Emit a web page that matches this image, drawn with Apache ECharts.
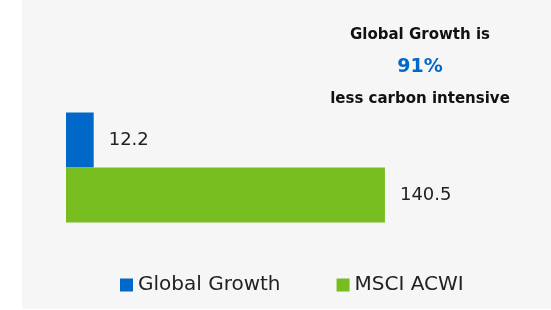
<!DOCTYPE html>
<html>
<head>
<meta charset="utf-8">
<script src="https://cdn.jsdelivr.net/npm/echarts@6/dist/echarts.min.js"></script>
<style>
  html, body { margin: 0; padding: 0; background: #ffffff; }
  #chart { width: 551px; height: 310px; }
</style>
</head>
<body>
<div id="chart"></div>
<script>
// data
const categories = ['Carbon intensity'];
const seriesNames = ['Global Growth', 'MSCI ACWI'];
const globalGrowth = [12.2];
const msciAcwi = [140.5];
const headline = ['Global Growth is', '91%', 'less carbon intensive'];

const colors = ['#0068c8', '#78bd20'];
const fontFamily = '"DejaVu Sans", sans-serif';

let chartDom = document.getElementById('chart');
let myChart = echarts.init(chartDom);
let option;

option = {
  animation: false,
  textStyle: { fontFamily: fontFamily },
  graphic: [
    {
      type: 'rect',
      z: -10,
      shape: { x: 22, y: 0, width: 529, height: 309 },
      style: { fill: '#f6f6f6' }
    }
  ],
  title: {
    text: '{a|' + headline[0] + '}\n{b|' + headline[1] + '}\n{a|' + headline[2] + '}',
    left: 415,
    top: 14,
    textAlign: 'center',
    textStyle: {
      rich: {
        a: { fontSize: 15, fontWeight: 'bold', color: '#111', lineHeight: 32, fontFamily: fontFamily, align: 'center' },
        b: { fontSize: 19, fontWeight: 'bold', color: '#0068c8', lineHeight: 32, fontFamily: fontFamily, align: 'center' }
      }
    }
  },
  legend: {
    bottom: 10,
    left: 115,
    itemWidth: 13,
    itemHeight: 13,
    itemGap: 56,
    icon: 'rect',
    textStyle: { fontSize: 20, color: '#222', fontFamily: fontFamily },
    data: seriesNames
  },
  grid: { left: 66, right: 31, top: 112, bottom: 87 },
  xAxis: { type: 'value', min: 0, max: 200, show: false },
  yAxis: { type: 'category', data: categories, show: false },
  series: [
    {
      name: seriesNames[0],
      type: 'bar',
      data: globalGrowth,
      barWidth: 55,
      barGap: '0%',
      itemStyle: { color: colors[0] },
      label: { show: true, position: 'right', distance: 15, fontSize: 18, color: '#222', fontFamily: fontFamily }
    },
    {
      name: seriesNames[1],
      type: 'bar',
      data: msciAcwi,
      barWidth: 55,
      barGap: '0%',
      itemStyle: { color: colors[1] },
      label: { show: true, position: 'right', distance: 15, fontSize: 18, color: '#222', fontFamily: fontFamily }
    }
  ]
};
option && myChart.setOption(option);
</script>
</body>
</html>
